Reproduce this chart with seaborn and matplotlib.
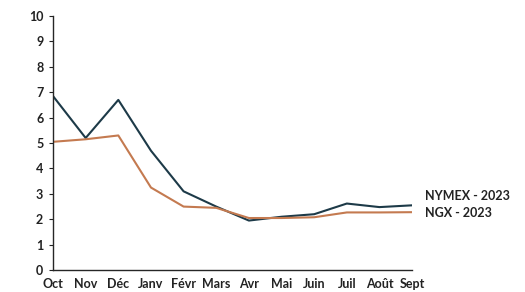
import matplotlib
matplotlib.use("Agg")
import matplotlib.pyplot as plt
import seaborn as sns
import pandas as pd

months = ["Oct", "Nov", "Déc", "Janv", "Févr", "Mars", "Avr", "Mai", "Juin", "Juil", "Août", "Sept"]
nymex_2023 = [6.85, 5.2, 6.7, 4.7, 3.1, 2.5, 1.95, 2.1, 2.2, 2.62, 2.48, 2.55]
ngx_2023 = [5.05, 5.15, 5.3, 3.25, 2.5, 2.45, 2.05, 2.05, 2.08, 2.27, 2.27, 2.28]

df = pd.DataFrame({"Mois": months, "NYMEX - 2023": nymex_2023, "NGX - 2023": ngx_2023})
long_df = df.melt(id_vars="Mois", var_name="Série", value_name="Prix")

sns.set_theme(style="ticks")
plt.rcParams["font.family"] = ["Lato", "DejaVu Sans"]

fig = plt.figure(figsize=(5.25, 2.92), dpi=100)
ax = fig.add_axes([0.101, 0.075, 0.684, 0.87])

palette = {"NYMEX - 2023": "#1d3a48", "NGX - 2023": "#c47a50"}
sns.lineplot(data=long_df, x="Mois", y="Prix", hue="Série", palette=palette,
             linewidth=1.5, sort=False, legend=False, ax=ax)

ax.set_xlim(0, len(months) - 1)
ax.set_ylim(0, 10)
ax.set_yticks(range(0, 11))
ax.set_xlabel("")
ax.set_ylabel("")
ax.tick_params(axis="y", length=3, width=0.8, labelsize=9, pad=4, colors="#222222")
ax.tick_params(axis="x", length=0, labelsize=9, pad=6, colors="#222222")
for lbl in ax.get_xticklabels() + ax.get_yticklabels():
    lbl.set_fontweight("bold")
sns.despine(ax=ax)
ax.spines["left"].set_linewidth(1.0)
ax.spines["bottom"].set_linewidth(1.0)

ax.annotate("NYMEX - 2023", xy=(1.0, nymex_2023[-1]), xycoords=("axes fraction", "data"),
            xytext=(9.5, 6.5), textcoords="offset points", va="center", fontsize=9,
            fontweight="bold", color="#222222")
ax.annotate("NGX - 2023", xy=(1.0, ngx_2023[-1]), xycoords=("axes fraction", "data"),
            xytext=(9.5, -0.5), textcoords="offset points", va="center", fontsize=9,
            fontweight="bold", color="#222222")

fig.savefig("out.png", dpi=100)
